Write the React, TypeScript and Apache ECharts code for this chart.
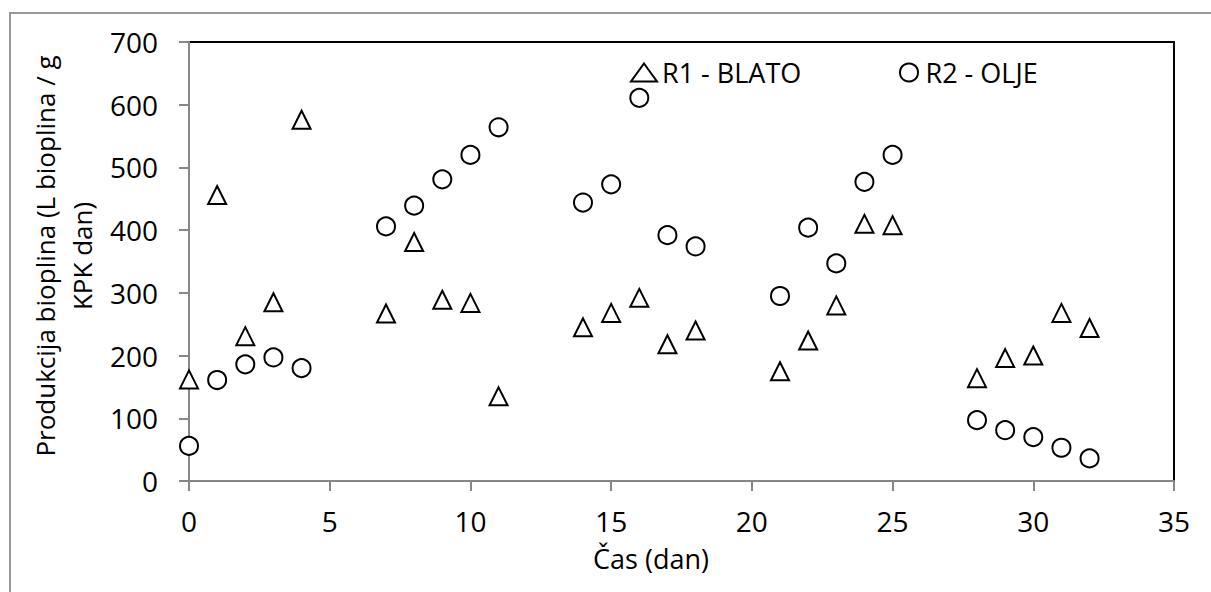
import React, { useEffect, useRef } from "react";
import * as echarts from "echarts";

const days = [0, 1, 2, 3, 4, 7, 8, 9, 10, 11, 14, 15, 16, 17, 18, 21, 22, 23, 24, 25, 28, 29, 30, 31, 32];
const r1Blato = [162, 456, 231, 285, 576, 267, 381, 289, 284, 135, 245, 268, 292, 218, 240, 175, 224, 280, 410, 408, 164, 196, 200, 268, 244];
const r2Olje = [56, 161, 186, 197, 180, 406, 439, 481, 520, 564, 444, 473, 611, 392, 374, 295, 404, 347, 477, 520, 97, 81, 70, 53, 36];
const seriesNames = ["R1 - BLATO", "R2 - OLJE"];
const xTitle = "Čas (dan)";
const yTitle = "Produkcija bioplina (L bioplina / g\nKPK dan)";

const FONT = "'Open Sans', sans-serif";
const AXIS_GREY = "#878787";

export default function App() {
  const ref = useRef<HTMLDivElement>(null);
  useEffect(() => {
    if (!ref.current) return;
    const chart = echarts.init(ref.current, undefined, { renderer: "svg" });
    const toPairs = (vals: number[]) => days.map((d, i) => [d, vals[i]]);
    chart.setOption({
      animation: false,
      backgroundColor: "#ffffff",
      textStyle: { fontFamily: FONT, color: "#000" },
      grid: {
        left: 189,
        top: 42,
        width: 985,
        height: 439,
        show: true,
        borderColor: "#000",
        borderWidth: 2,
        containLabel: false,
      },
      xAxis: {
        type: "value",
        min: 0,
        max: 35,
        interval: 5,
        axisLine: { show: true, onZero: false, lineStyle: { color: AXIS_GREY, width: 2 } },
        axisTick: { show: true, inside: false, length: 10, lineStyle: { color: AXIS_GREY, width: 2 } },
        splitLine: { show: false },
        axisLabel: { color: "#000", fontSize: 28, fontFamily: FONT, margin: 26 },
      },
      yAxis: {
        type: "value",
        min: 0,
        max: 700,
        interval: 100,
        axisLine: { show: true, onZero: false, lineStyle: { color: AXIS_GREY, width: 2 } },
        axisTick: { show: true, inside: false, length: 10, lineStyle: { color: AXIS_GREY, width: 2 } },
        splitLine: { show: false },
        axisLabel: { color: "#000", fontSize: 28, fontFamily: FONT, margin: 31 },
      },
      legend: [
        {
          data: [{ name: seriesNames[0], icon: "triangle" }],
          left: 625,
          top: 54,
          itemWidth: 26,
          itemHeight: 18,
          itemGap: 0,
          textStyle: { fontSize: 27, fontFamily: FONT, color: "#000" },
        },
        {
          data: [{ name: seriesNames[1], icon: "circle" }],
          left: 894,
          top: 54,
          itemWidth: 23,
          itemHeight: 18,
          itemGap: 0,
          textStyle: { fontSize: 27, fontFamily: FONT, color: "#000" },
        },
      ],
      graphic: [
        {
          type: "rect",
          shape: { x: 10, y: 13, width: 1400, height: 800 },
          style: { fill: "none", stroke: "#999999", lineWidth: 2 },
          silent: true,
          z: -10,
        },
        {
          type: "text",
          x: 63,
          y: 256,
          rotation: Math.PI / 2,
          style: {
            text: yTitle,
            fontSize: 26,
            fontFamily: FONT,
            fill: "#000",
            align: "center",
            verticalAlign: "middle",
            lineHeight: 37,
          },
        },
        {
          type: "text",
          x: 651,
          y: 558,
          style: {
            text: xTitle,
            fontSize: 27,
            fontFamily: FONT,
            fill: "#000",
            align: "center",
            verticalAlign: "middle",
          },
        },
      ],
      series: [
        {
          name: seriesNames[0],
          type: "scatter",
          symbol: "triangle",
          symbolSize: 18,
          data: toPairs(r1Blato),
          itemStyle: { color: "#ffffff", borderColor: "#000", borderWidth: 2, opacity: 1 },
          z: 3,
        },
        {
          name: seriesNames[1],
          type: "scatter",
          symbol: "circle",
          symbolSize: 18,
          data: toPairs(r2Olje),
          itemStyle: { color: "#ffffff", borderColor: "#000", borderWidth: 2, opacity: 1 },
          z: 4,
        },
      ],
    });
    return () => chart.dispose();
  }, []);
  return (
    <div
      ref={ref}
      style={{ position: "absolute", left: 0, top: 0, width: 1211, height: 592, background: "#fff" }}
    />
  );
}
